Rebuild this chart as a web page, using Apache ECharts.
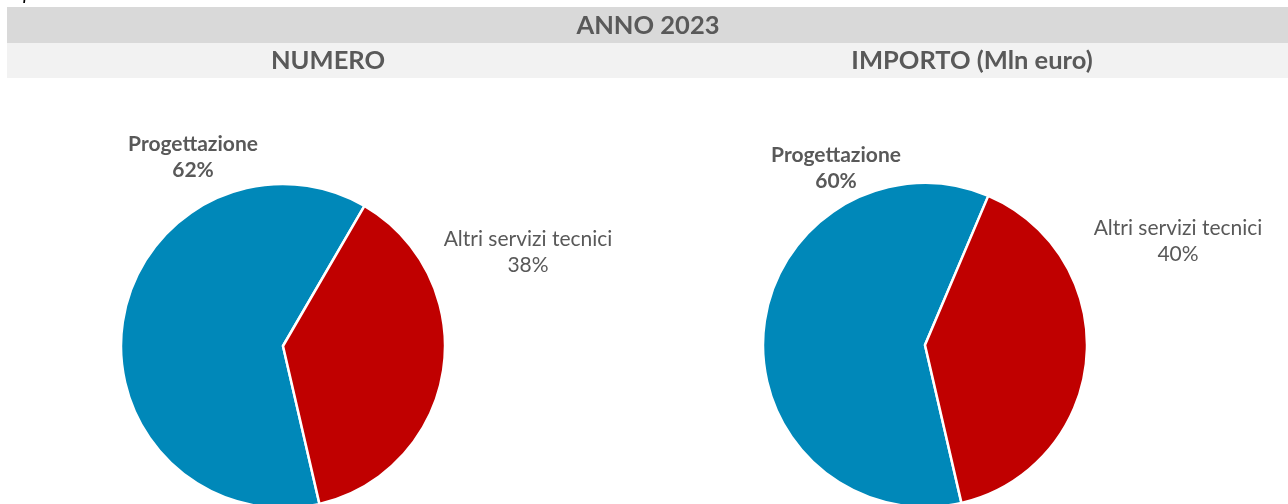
<!DOCTYPE html>
<html>
<head>
<meta charset="utf-8">
<script src="https://cdn.jsdelivr.net/npm/echarts@6/dist/echarts.min.js"></script>
<style>
  html, body { margin: 0; padding: 0; background: #fff; }
  #chart { width: 1288px; height: 504px; }
</style>
</head>
<body>
<div id="chart"></div>
<script>
// dati
var categories = ["Progettazione", "Altri servizi tecnici"];
var numeroValues = [62, 38];
var importoValues = [60, 40];
var colors = ["#0088b9", "#c00000"];

var FONT = "Lato";
var TXT = "#595959";

// posizioni delle etichette (centro del testo)
var labelPos = {
  numero: [[193, 157], [528, 252]],
  importo: [[836, 168], [1178, 241]]
};

function makeSeries(name, values, center, pos) {
  return {
    name: name,
    type: "pie",
    center: center,
    radius: 162,
    startAngle: -77,
    clockwise: true,
    animation: false,
    silent: true,
    itemStyle: { borderColor: "#fff", borderWidth: 2.5 },
    labelLine: { show: false },
    label: {
      show: true,
      position: "inside",
      formatter: "{b}\n{d}%",
      color: TXT,
      fontFamily: FONT,
      fontSize: 21,
      lineHeight: 26,
      align: "center"
    },
    labelLayout: function (p) {
      var xy = pos[p.dataIndex];
      return { x: xy[0], y: xy[1], align: "center", verticalAlign: "middle" };
    },
    data: categories.map(function (c, i) {
      return {
        name: c,
        value: values[i],
        itemStyle: { color: colors[i] },
        label: { fontWeight: i === 0 ? "bold" : "normal" }
      };
    })
  };
}

var chart = echarts.init(document.getElementById("chart"));
chart.setOption({
  backgroundColor: "#fff",
  graphic: [
    { type: "text", x: 2, y: 4,
      style: { text: "Importi in mln euro", font: "italic 20px " + FONT, fill: "#000", verticalAlign: "bottom" } },
    { type: "rect", shape: { x: 7, y: 7, width: 1281, height: 36 }, style: { fill: "#d9d9d9" } },
    { type: "rect", shape: { x: 7, y: 43, width: 1281, height: 35 }, style: { fill: "#f2f2f2" } },
    { type: "text", x: 648, y: 26,
      style: { text: "ANNO 2023", font: "bold 25.5px " + FONT, fill: TXT, align: "center", verticalAlign: "middle" } },
    { type: "text", x: 328, y: 61,
      style: { text: "NUMERO", font: "bold 25.5px " + FONT, fill: TXT, align: "center", verticalAlign: "middle" } },
    { type: "text", x: 972, y: 61,
      style: { text: "IMPORTO (Mln euro)", font: "bold 25.5px " + FONT, fill: TXT, align: "center", verticalAlign: "middle" } }
  ],
  series: [
    makeSeries("NUMERO", numeroValues, [283, 346], labelPos.numero),
    makeSeries("IMPORTO", importoValues, [925, 345], labelPos.importo)
  ]
});
window.addEventListener("resize", function () { chart.resize(); });
</script>
</body>
</html>
